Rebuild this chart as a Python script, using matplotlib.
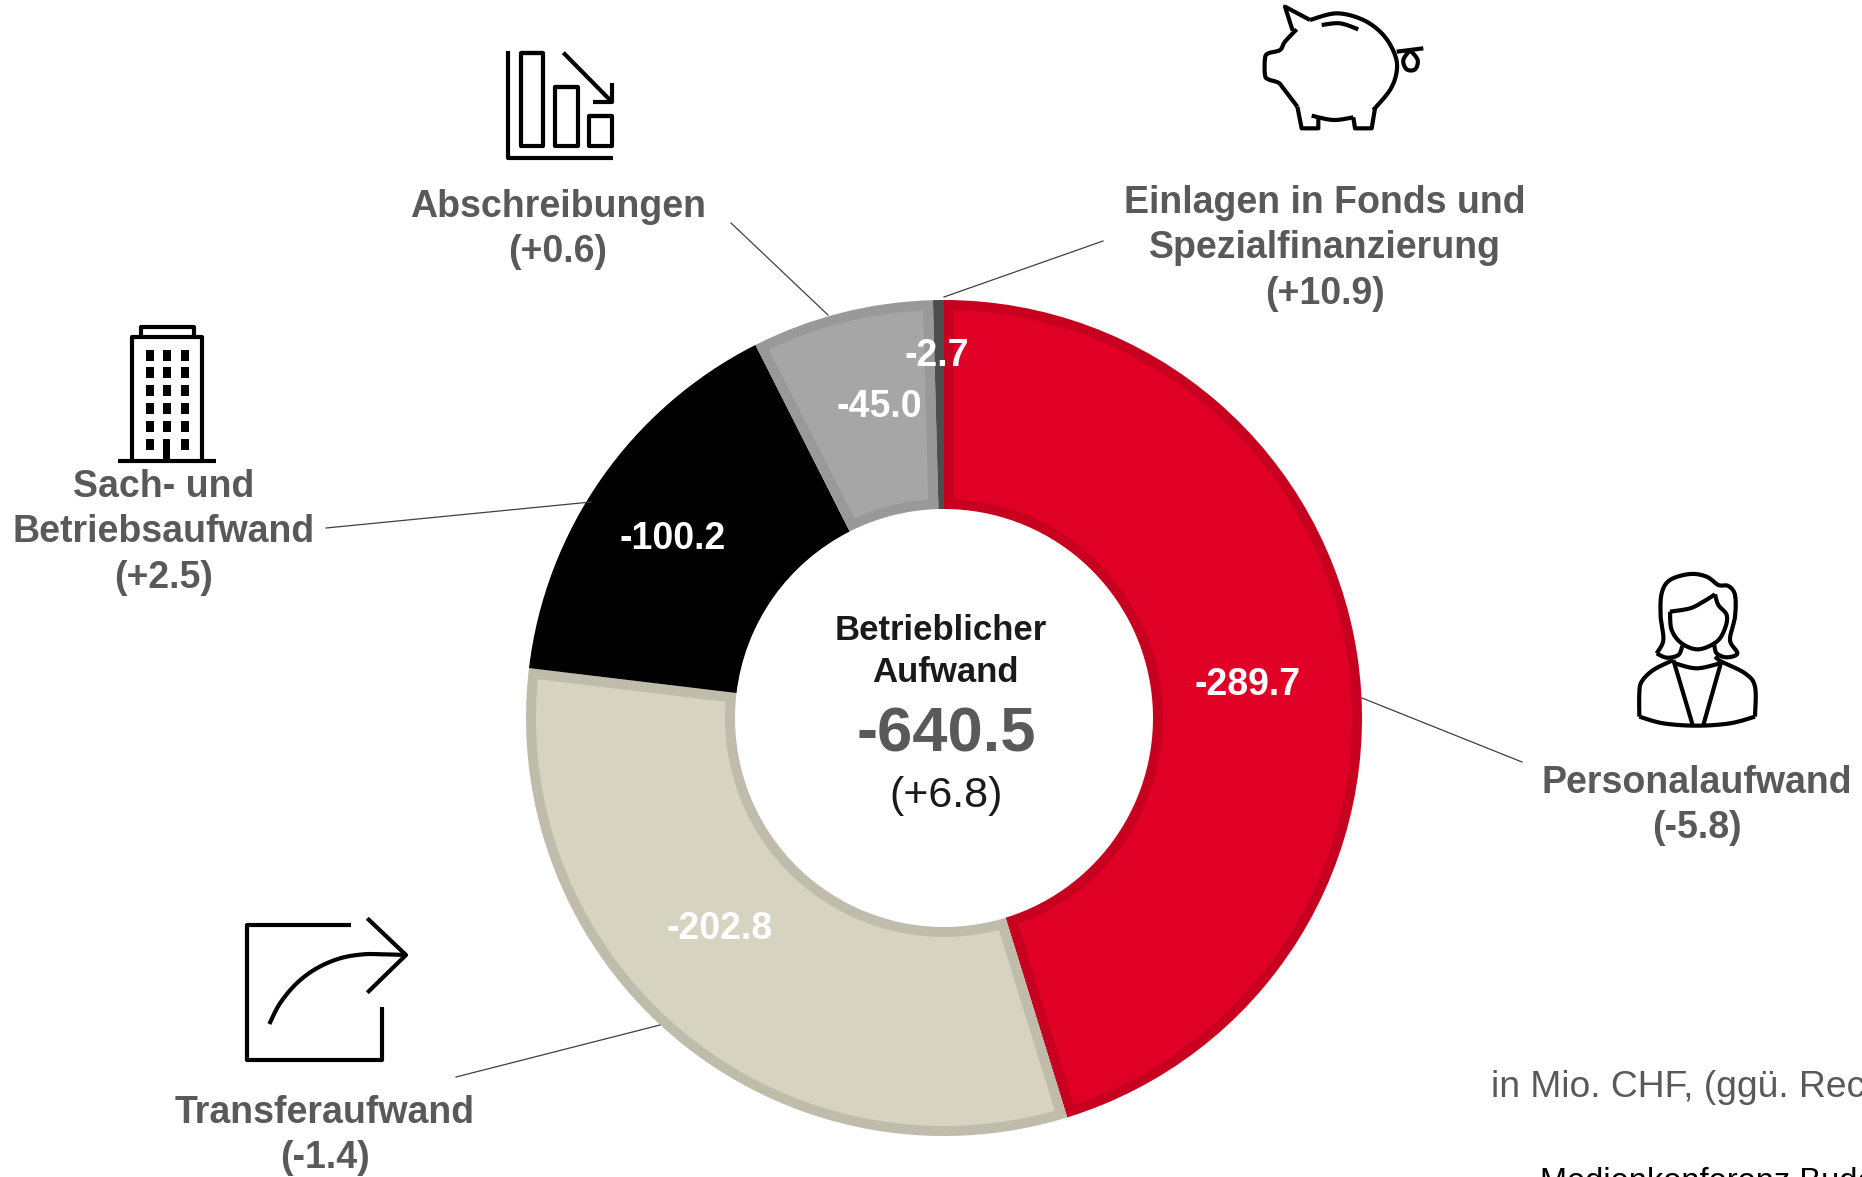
import numpy as np
import matplotlib
matplotlib.use('Agg')
import matplotlib.pyplot as plt
from matplotlib.patches import Rectangle, Polygon

plt.rcParams['font.family'] = ['Liberation Sans', 'DejaVu Sans']

# --------- Datos ---------

categorias = ['Personalaufwand', 'Transferaufwand', 'Sach- und\nBetriebsaufwand',
              'Abschreibungen', 'Einlagen in Fonds und\nSpezialfinanzierung']
valores = [289.7, 202.8, 100.2, 45.0, 2.7]
cambios = ['-5.8', '-1.4', '+2.5', '+0.6', '+10.9']
total = '-640.5'
cambio_total = '+6.8'

colores = ['#E00025', '#D6D3C1', '#000000', '#A6A6A6', '#4D4D4D']
bordes = ['#C7001F', '#BFBCAC', '#000000', '#999999', '#4D4D4D']

# posiciones en pixeles de la figura
pos_valores = [(1248, 685), (720, 929), (673, 539), (879, 407), (937, 356)]
pos_etiquetas = [(1697, 783), (325, 1113), (164, 487), (558, 207), (1325, 203)]
guias = [((1362, 698), (1522, 762)), ((456, 1077), (660, 1025)), ((326, 528), (591, 502)),
         ((731, 223), (828, 315)), ((944, 297), (1103, 241))]

GRIS = '#595959'
LH = 45.5
CENTRO = (944, 718)
R_EXT = 418
R_INT = 209
BORDE = 10

fig = plt.figure(figsize=(18.62, 11.77), dpi=100)
ax = fig.add_axes([0, 0, 1, 1])

# --------- Anillo ---------

wedges, _ = ax.pie(valores, colors=bordes, center=CENTRO, radius=R_EXT, startangle=-90,
                   counterclock=True, wedgeprops=dict(width=R_EXT - R_INT, linewidth=0))

ax.set_xlim(0, 1862)
ax.set_ylim(1177, 0)
ax.axis('off')

# relleno interior de cada sector, dejando el borde oscuro alrededor
for w, c in zip(wedges, colores):
    r1, r2 = R_EXT - BORDE, R_INT + BORDE
    d1, d2 = np.degrees(np.arcsin(BORDE / r1)), np.degrees(np.arcsin(BORDE / r2))
    if w.theta2 - w.theta1 <= 2 * d2:
        continue
    t1 = np.radians(np.linspace(w.theta1 + d1, w.theta2 - d1, 120))
    t2 = np.radians(np.linspace(w.theta2 - d2, w.theta1 + d2, 120))
    xs = np.r_[CENTRO[0] + r1 * np.cos(t1), CENTRO[0] + r2 * np.cos(t2)]
    ys = np.r_[CENTRO[1] + r1 * np.sin(t1), CENTRO[1] + r2 * np.sin(t2)]
    ax.add_patch(Polygon(np.c_[xs, ys], closed=True, fc=c, ec='none'))

for v, (x, y) in zip(valores, pos_valores):
    ax.text(x, y, f'-{v:.1f}', color='white', fontsize=27, fontweight='bold', ha='center', va='center')

for cat, cam, (x, y) in zip(categorias, cambios, pos_etiquetas):
    lineas = cat.split('\n') + [f'({cam})']
    for i, l in enumerate(lineas):
        ax.text(x, y + i * LH, l, color=GRIS, fontsize=27, fontweight='bold', ha='center', va='center')

for (a, b) in guias:
    ax.plot([a[0], b[0]], [a[1], b[1]], color='#404040', lw=0.9)

# centro
ax.text(941, 631, 'Betrieblicher', color='#1A1A1A', fontsize=25, fontweight='bold', ha='center', va='center')
ax.text(945, 673, 'Aufwand', color='#1A1A1A', fontsize=25, fontweight='bold', ha='center', va='center')
ax.text(946, 735, total, color=GRIS, fontsize=45.5, fontweight='bold', ha='center', va='center')
ax.text(946, 796, f'({cambio_total})', color='#1A1A1A', fontsize=31, ha='center', va='center')

# notas cortadas por el borde, como en el original
ax.text(1491, 1097, 'in Mio. CHF, (ggü. Rec', color=GRIS, fontsize=26.8, ha='left', va='baseline')
ax.text(1540, 1191, 'Medienkonferenz Bude', color='black', fontsize=23.5, ha='left', va='baseline', clip_on=False)

# --------- Iconos ---------

def suave(pts, n=12):
    pts = np.array(pts, dtype=float)
    p = np.vstack([pts[0], pts, pts[-1]])
    salida = []
    for i in range(1, len(p) - 2):
        t = np.linspace(0, 1, n)[:, None]
        salida.append(0.5 * (2 * p[i] + (p[i + 1] - p[i - 1]) * t
                             + (2 * p[i - 1] - 5 * p[i] + 4 * p[i + 1] - p[i + 2]) * t ** 2
                             + (3 * p[i] - p[i - 1] - 3 * p[i + 1] + p[i + 2]) * t ** 3))
    return np.vstack(salida)

def trazo(origen, pts, curva=False, lw=3.0):
    pts = suave(pts) if curva else np.array(pts, dtype=float)
    ax.plot(origen[0] + pts[:, 0] / 3, origen[1] + pts[:, 1] / 3, color='black', lw=lw,
            solid_capstyle='butt', solid_joinstyle='round')

# alcancia
o = (1240, 0)
trazo(o, [(158, 92), (135, 20), (210, 60)])
trazo(o, [(210, 60), (290, 40), (370, 60), (430, 105), (465, 165), (470, 215), (450, 270), (400, 330)], True)
trazo(o, [(405, 325), (395, 385), (345, 385), (340, 352)])
trazo(o, [(215, 347), (280, 360), (340, 352)], True)
trazo(o, [(235, 355), (235, 385), (185, 385), (172, 320)])
trazo(o, [(172, 320), (130, 265), (115, 248), (85, 238), (75, 225), (75, 175), (85, 160),
          (120, 150), (135, 125), (170, 88)], True)
trazo(o, [(245, 75), (300, 70), (355, 88)], True)
trazo(o, [(470, 155), (510, 150), (550, 145)], True)
trazo(o, [(510, 150), (490, 180), (500, 208), (525, 208), (533, 180), (510, 150)], True)

# grafico de barras
o = (490, 30)
trazo(o, [(55, 62), (55, 383), (368, 383)])
for x0, y0, x1, y1 in [(92, 68, 160, 347), (195, 172, 263, 347), (298, 258, 365, 347)]:
    trazo(o, [(x0, y0), (x1, y0), (x1, y1), (x0, y1), (x0, y0), (x1, y0)])
trazo(o, [(220, 68), (362, 212)])
trazo(o, [(365, 160), (365, 215), (310, 215)])

# edificio
o = (100, 310)
trazo(o, [(55, 452), (348, 452)])
trazo(o, [(97, 452), (97, 82), (307, 82), (307, 452)])
trazo(o, [(122, 78), (122, 50), (282, 50), (282, 78)])
for i, y in enumerate([135, 188, 240, 295, 350, 402]):
    for j, x in enumerate([150, 201, 255]):
        if i == 5 and j == 1:
            continue
        ax.add_patch(Rectangle((o[0] + (x - 12) / 3, o[1] + (y - 16) / 3), 8, 11, fc='black', ec='none'))
ax.add_patch(Rectangle((o[0] + 190 / 3, o[1] + 388 / 3), 7, 21, fc='black', ec='none'))

# persona
o = (1620, 560)
trazo(o, [(110, 280), (130, 240), (122, 170), (125, 100), (150, 60), (210, 42), (260, 50), (295, 75),
          (325, 78), (345, 105), (345, 170), (330, 240), (352, 280), (320, 292), (290, 280), (283, 255)], True)
trazo(o, [(110, 280), (140, 293), (175, 285), (187, 258)], True)
trazo(o, [(150, 155), (210, 145), (250, 125), (285, 103)], True)
trazo(o, [(285, 103), (295, 135), (320, 165), (315, 205), (290, 245), (235, 268), (185, 250),
          (155, 210), (150, 155)], True)
trazo(o, [(160, 300), (100, 330), (65, 365), (58, 400), (58, 470)], True)
trazo(o, [(58, 470), (130, 490), (230, 497), (330, 490), (405, 470)], True)
trazo(o, [(405, 470), (405, 380), (375, 340), (305, 305), (285, 290)], True)
trazo(o, [(165, 310), (230, 325), (300, 310)], True)
trazo(o, [(160, 300), (218, 495)])
trazo(o, [(303, 308), (250, 495)])

# flecha
o = (230, 900)
trazo(o, [(362, 75), (50, 75), (50, 480), (455, 480), (455, 322)])
trazo(o, [(412, 55), (528, 165), (412, 278)])
trazo(o, [(118, 372), (150, 310), (200, 250), (260, 205), (330, 175), (400, 163), (460, 163), (528, 165)], True)

fig.savefig('out.png', dpi=100)
